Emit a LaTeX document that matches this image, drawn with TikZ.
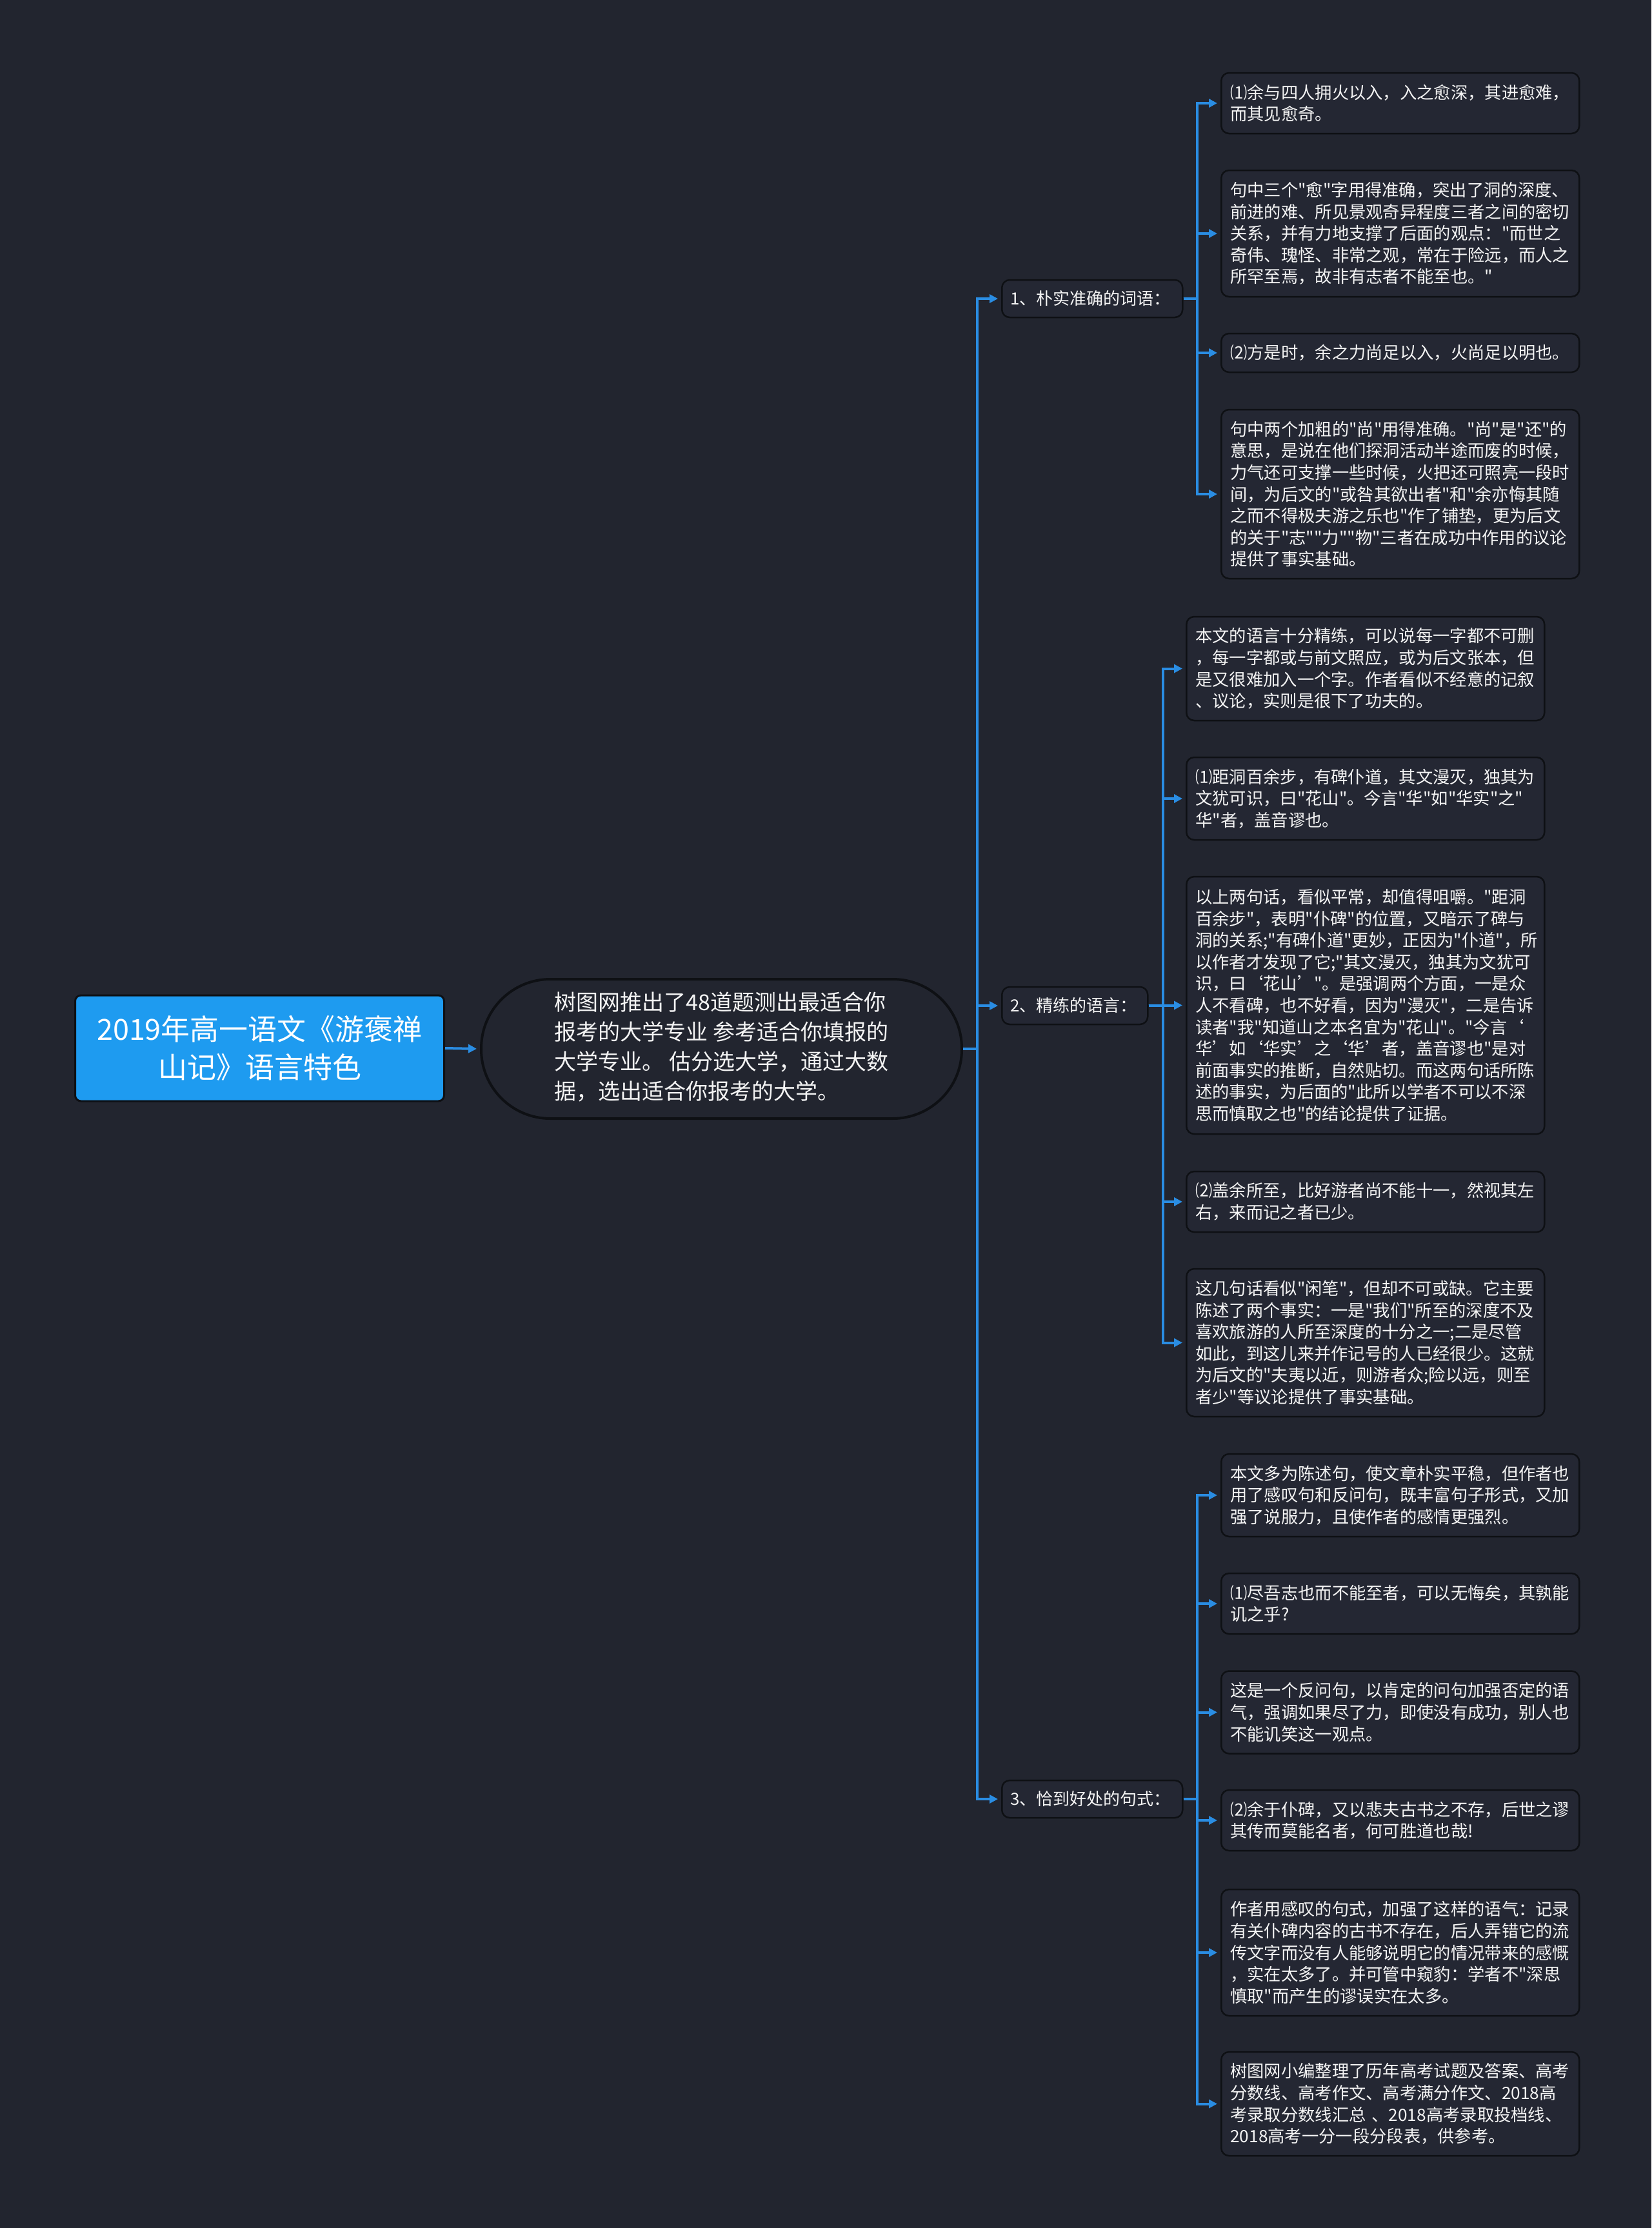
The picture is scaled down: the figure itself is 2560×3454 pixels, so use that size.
\documentclass[tikz,border=0pt]{standalone}
\usepackage{fontspec}
\setmainfont{Noto Sans CJK SC}[Ligatures=TeXOff]
\usetikzlibrary{arrows.meta}
\definecolor{bg}{HTML}{22252F}
\definecolor{boxfill}{HTML}{242733}
\definecolor{boxline}{HTML}{0E1014}
\definecolor{connblue}{HTML}{2A8DE3}
\definecolor{rootblue}{HTML}{1E9BF0}
\definecolor{txt}{HTML}{F4F4F4}
\tikzset{
  leafbox/.style={draw=boxline, line width=2.5pt, fill=boxfill, rounded corners=12pt,
    minimum width=555pt, text width=527pt, inner xsep=14pt, inner ysep=0pt,
    align=left, text=txt, anchor=west, font=\fontsize{26.3}{33.6}\selectfont},
  branchbox/.style={draw=boxline, line width=2.5pt, fill=boxfill, rounded corners=12pt,
    minimum height=58pt, inner xsep=13pt, inner ysep=0pt, align=left, text=txt,
    anchor=west, font=\fontsize{26}{30}\selectfont},
  rootbox/.style={draw=boxline, line width=3pt, fill=rootblue, rounded corners=9pt,
    minimum width=572pt, minimum height=164pt, text width=540pt, align=center,
    text=white, anchor=west, font=\fontsize{45}{59}\selectfont},
  stadbox/.style={draw=boxline, line width=4pt, fill=bg, rounded corners=107pt,
    minimum width=745pt, minimum height=216pt, inner sep=0pt,
    text=txt, font=\fontsize{34}{46}\selectfont},
  link/.style={draw=connblue, line width=4pt, -{Triangle[length=13pt,width=13pt]},
    shorten >=5pt}
}
\begin{document}
\begin{tikzpicture}[x=1pt,y=-1pt]
\useasboundingbox (0,0) rectangle (2560,3454);
\fill[bg] (0,0) rectangle (2560,3454);

% root and central node
\node[rootbox] (root) at (115,1625) {2019年高一语文《游褒禅\\山记》语言特色};
\node[stadbox] (st) at (1118.5,1626) {\begin{tabular}{@{}l@{}}树图网推出了48道题测出最适合你\\报考的大学专业 参考适合你填报的\\大学专业。 估分选大学，通过大数\\据，选出适合你报考的大学。\end{tabular}};

% branches
\node[branchbox, minimum width=280pt, text width=254pt] (b1) at (1552,463) {1、朴实准确的词语：};
\node[branchbox, minimum width=226pt, text width=200pt] (b2) at (1552,1559) {2、精练的语言：};
\node[branchbox, minimum width=280pt, text width=254pt] (b3) at (1552,2789) {3、恰到好处的句式：};

% group 1 leaves
\node[leafbox, minimum height=94pt] (l1a) at (1892,160) {⑴余与四人拥火以入，入之愈深，其进愈难，\\而其见愈奇。};
\node[leafbox, minimum height=196pt] (l1b) at (1892,362) {句中三个"愈"字用得准确，突出了洞的深度、\\前进的难、所见景观奇异程度三者之间的密切\\关系，并有力地支撑了后面的观点："而世之\\奇伟、瑰怪、非常之观，常在于险远，而人之\\所罕至焉，故非有志者不能至也。"};
\node[leafbox, minimum height=60pt] (l1c) at (1892,547) {⑵方是时，余之力尚足以入，火尚足以明也。};
\node[leafbox, minimum height=262pt] (l1d) at (1892,766) {句中两个加粗的"尚"用得准确。"尚"是"还"的\\意思，是说在他们探洞活动半途而废的时候，\\力气还可支撑一些时候，火把还可照亮一段时\\间，为后文的"或咎其欲出者"和"余亦悔其随\\之而不得极夫游之乐也"作了铺垫，更为后文\\的关于"志""力""物"三者在成功中作用的议论\\提供了事实基础。};

% group 2 leaves
\node[leafbox, minimum height=161pt] (l2a) at (1838,1036.5) {本文的语言十分精练，可以说每一字都不可删\\，每一字都或与前文照应，或为后文张本，但\\是又很难加入一个字。作者看似不经意的记叙\\、议论，实则是很下了功夫的。};
\node[leafbox, minimum height=128pt] (l2b) at (1838,1238) {⑴距洞百余步，有碑仆道，其文漫灭，独其为\\文犹可识，曰"花山"。今言"华"如"华实"之"\\华"者，盖音谬也。};
\node[leafbox, minimum height=399pt] (l2c) at (1838,1558.5) {以上两句话，看似平常，却值得咀嚼。"距洞\\百余步"，表明"仆碑"的位置，又暗示了碑与\\洞的关系;"有碑仆道"更妙，正因为"仆道"，所\\以作者才发现了它;"其文漫灭，独其为文犹可\\识，曰‘花山’"。是强调两个方面，一是众\\人不看碑，也不好看，因为"漫灭"，二是告诉\\读者"我"知道山之本名宜为"花山"。"今言‘\\华’如‘华实’之‘华’者，盖音谬也"是对\\前面事实的推断，自然贴切。而这两句话所陈\\述的事实，为后面的"此所以学者不可以不深\\思而慎取之也"的结论提供了证据。};
\node[leafbox, minimum height=94pt] (l2d) at (1838,1863) {⑵盖余所至，比好游者尚不能十一，然视其左\\右，来而记之者已少。};
\node[leafbox, minimum height=229pt] (l2e) at (1838,2081.5) {这几句话看似"闲笔"，但却不可或缺。它主要\\陈述了两个事实：一是"我们"所至的深度不及\\喜欢旅游的人所至深度的十分之一;二是尽管\\如此，到这儿来并作记号的人已经很少。这就\\为后文的"夫夷以近，则游者众;险以远，则至\\者少"等议论提供了事实基础。};

% group 3 leaves
\node[leafbox, minimum height=128pt] (l3a) at (1892,2318) {本文多为陈述句，使文章朴实平稳，但作者也\\用了感叹句和反问句，既丰富句子形式，又加\\强了说服力，且使作者的感情更强烈。};
\node[leafbox, minimum height=94pt] (l3b) at (1892,2486) {⑴尽吾志也而不能至者，可以无悔矣，其孰能\\讥之乎?};
\node[leafbox, minimum height=128pt] (l3c) at (1892,2654.5) {这是一个反问句，以肯定的问句加强否定的语\\气，强调如果尽了力，即使没有成功，别人也\\不能讥笑这一观点。};
\node[leafbox, minimum height=94pt] (l3d) at (1892,2822) {⑵余于仆碑，又以悲夫古书之不存，后世之谬\\其传而莫能名者，何可胜道也哉!};
\node[leafbox, minimum height=196pt] (l3e) at (1892,3027) {作者用感叹的句式，加强了这样的语气：记录\\有关仆碑内容的古书不存在，后人弄错它的流\\传文字而没有人能够说明它的情况带来的感慨\\，实在太多了。并可管中窥豹：学者不"深思\\慎取"而产生的谬误实在太多。};
\node[leafbox, minimum height=161pt] (l3f) at (1892,3261.5) {树图网小编整理了历年高考试题及答案、高考\\分数线、高考作文、高考满分作文、2018高\\考录取分数线汇总 、2018高考录取投档线、\\2018高考一分一段分段表，供参考。};

% connectors
\draw[link] (root.east) -- (st.west);
\foreach \b in {b1,b2,b3}
  \draw[link] (st.east) -- ++(22,0) |- (\b.west);
\foreach \l in {l1a,l1b,l1c,l1d}
  \draw[link] (b1.east) -- ++(21,0) |- (\l.west);
\foreach \l in {l2a,l2b,l2c,l2d,l2e}
  \draw[link] (b2.east) -- ++(22,0) |- (\l.west);
\foreach \l in {l3a,l3b,l3c,l3d,l3e,l3f}
  \draw[link] (b3.east) -- ++(21,0) |- (\l.west);
\end{tikzpicture}
\end{document}
